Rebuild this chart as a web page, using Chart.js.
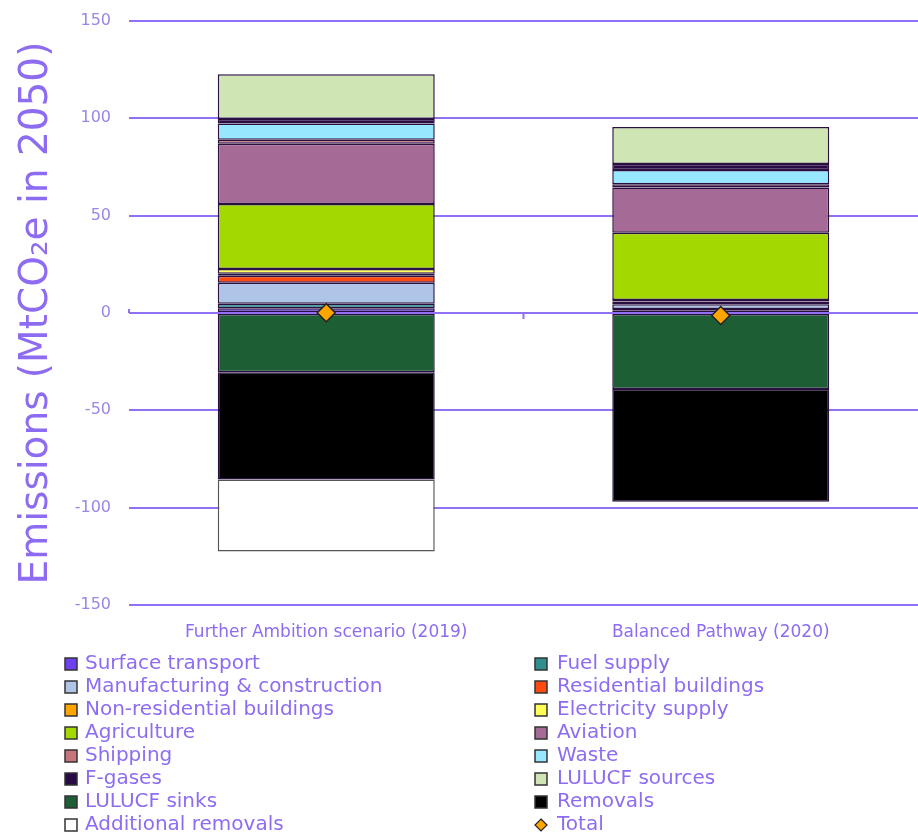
<!DOCTYPE html>
<html>
<head>
<meta charset="utf-8">
<script src="https://cdn.jsdelivr.net/npm/chart.js@4"></script>
<style>
html,body{margin:0;padding:0;background:#fff;}
#wrap{width:918px;height:837px;position:relative;}
</style>
</head>
<body>
<div id="wrap"><canvas id="c" width="918" height="837"></canvas></div>
<script>
const categories = ["Further Ambition scenario (2019)", "Balanced Pathway (2020)"];
const yTicks = [150, 100, 50, 0, -50, -100, -150];

const seriesNames = ["Surface transport","Fuel supply","Manufacturing & construction","Residential buildings","Non-residential buildings","Electricity supply","Agriculture","Aviation","Shipping","Waste","F-gases","LULUCF sources","LULUCF sinks","Removals","Additional removals"];

const surfaceTransport   = [2.5, 1.2];
const fuelSupply         = [2.3, 0.8];
const manufacturing      = [10.8, 2.5];
const residential        = [3.5, 0.7];
const nonResidential     = [1.0, 0.7];
const electricitySupply  = [2.5, 0.8];
const agriculture        = [33.4, 34.5];
const aviation           = [31.0, 23.3];
const shipping           = [2.0, 1.7];
const waste              = [8.4, 7.2];
const fGases             = [2.2, 3.1];
const lulucfSources      = [23.0, 19.1];
const lulucfSinks        = [-30.5, -39.0];
const removals           = [-55.0, -57.9];
const additionalRemovals = [-37.0, 0];
const total              = [0.1, -1.3];

const seriesValues = [surfaceTransport, fuelSupply, manufacturing, residential, nonResidential, electricitySupply, agriculture, aviation, shipping, waste, fGases, lulucfSources, lulucfSinks, removals, additionalRemovals];
const seriesColors = ["#6f3ff2","#2f8f8f","#aec5e8","#ff4a12","#ffa500","#ffff55","#a3d800","#a66a96","#c8747c","#96e7ff","#2a0a45","#cfe5b4","#1e5e34","#000000","#ffffff"];

const textPurple = "#8e6cf2";
const FONT = "'DejaVu Sans', sans-serif";

const datasets = seriesNames.map((n, i) => ({
  type: 'bar',
  label: n,
  data: seriesValues[i],
  backgroundColor: seriesColors[i],
  borderColor: i === 14 ? '#555555' : '#2a1040',
  borderWidth: 1.5,
  borderSkipped: false,
  stack: 's',
  order: 1,
  barPercentage: 0.55,
  categoryPercentage: 1.0
}));
datasets.push({
  type: 'line',
  label: 'Total',
  data: total,
  showLine: false,
  pointStyle: 'rectRot',
  pointRadius: 9,
  pointBackgroundColor: '#ffa500',
  pointBorderColor: '#222222',
  pointBorderWidth: 1.5,
  stack: 'total',
  order: 0
});

const legendPlugin = {
  id: 'customLegend',
  afterDraw(chart) {
    const ctx = chart.ctx;
    ctx.save();
    ctx.font = "20px " + FONT;
    ctx.textBaseline = 'middle';
    ctx.textAlign = 'left';
    const ds = chart.data.datasets;
    const rowY0 = 664, rowH = 23.0;
    ds.forEach((d, i) => {
      const col = i % 2, row = Math.floor(i / 2);
      const bx = col === 0 ? 65 : 535;
      const tx = col === 0 ? 85 : 557;
      const y = rowY0 + row * rowH;
      if (d.type === 'line') {
        ctx.beginPath();
        ctx.moveTo(bx + 6, y - 6); ctx.lineTo(bx + 12, y); ctx.lineTo(bx + 6, y + 6); ctx.lineTo(bx, y); ctx.closePath();
        ctx.fillStyle = '#ffa500'; ctx.fill();
        ctx.strokeStyle = '#222'; ctx.lineWidth = 1.2; ctx.stroke();
      } else {
        ctx.fillStyle = d.backgroundColor;
        ctx.fillRect(bx, y - 6, 12, 12);
        ctx.strokeStyle = '#333'; ctx.lineWidth = 1.5;
        ctx.strokeRect(bx, y - 6, 12, 12);
      }
      ctx.fillStyle = textPurple;
      ctx.fillText(d.label, tx, y);
    });
    // small tick marks on zero line
    const xs = chart.scales.x, ys = chart.scales.y;
    const mid = (xs.getPixelForValue(0) + xs.getPixelForValue(1)) / 2;
    const y0 = ys.getPixelForValue(0);
    ctx.strokeStyle = '#8f6ff5'; ctx.lineWidth = 2;
    ctx.beginPath(); ctx.moveTo(mid, y0); ctx.lineTo(mid, y0 + 6); ctx.stroke();
    ctx.beginPath(); ctx.moveTo(xs.left, y0 - 4); ctx.lineTo(xs.left, y0); ctx.stroke();
    ctx.restore();
  }
};

new Chart(document.getElementById('c'), {
  data: { labels: categories, datasets },
  plugins: [legendPlugin],
  options: {
    responsive: false,
    animation: false,
    layout: { autoPadding: false, padding: { top: 21, right: 0, left: 0, bottom: 0 } },
    plugins: { legend: { display: false }, tooltip: { enabled: false } },
    scales: {
      x: {
        stacked: true,
        grid: { display: false, drawTicks: false },
        border: { display: false },
        ticks: { color: textPurple, font: { family: FONT, size: 17 }, padding: 17, maxRotation: 0 },
        afterFit(s) { s.height = 232; s.paddingLeft = 0; s.paddingRight = 0; }
      },
      y: {
        stacked: true,
        min: -150, max: 150,
        afterBuildTicks(s) { s.ticks = yTicks.map(v => ({ value: v })); },
        grid: { color: '#9070f5', lineWidth: 2, drawTicks: false },
        border: { display: false },
        ticks: { color: '#9a86e6', font: { family: FONT, size: 16 }, padding: 18 },
        title: { display: true, text: 'Emissions (MtCO₂e in 2050)', color: textPurple, font: { family: FONT, size: 39 }, padding: { top: 13, bottom: 0 } },
        afterFit(s) { s.width = 129; s.paddingTop = 0; s.paddingBottom = 0; }
      }
    }
  }
});
</script>
</body>
</html>
